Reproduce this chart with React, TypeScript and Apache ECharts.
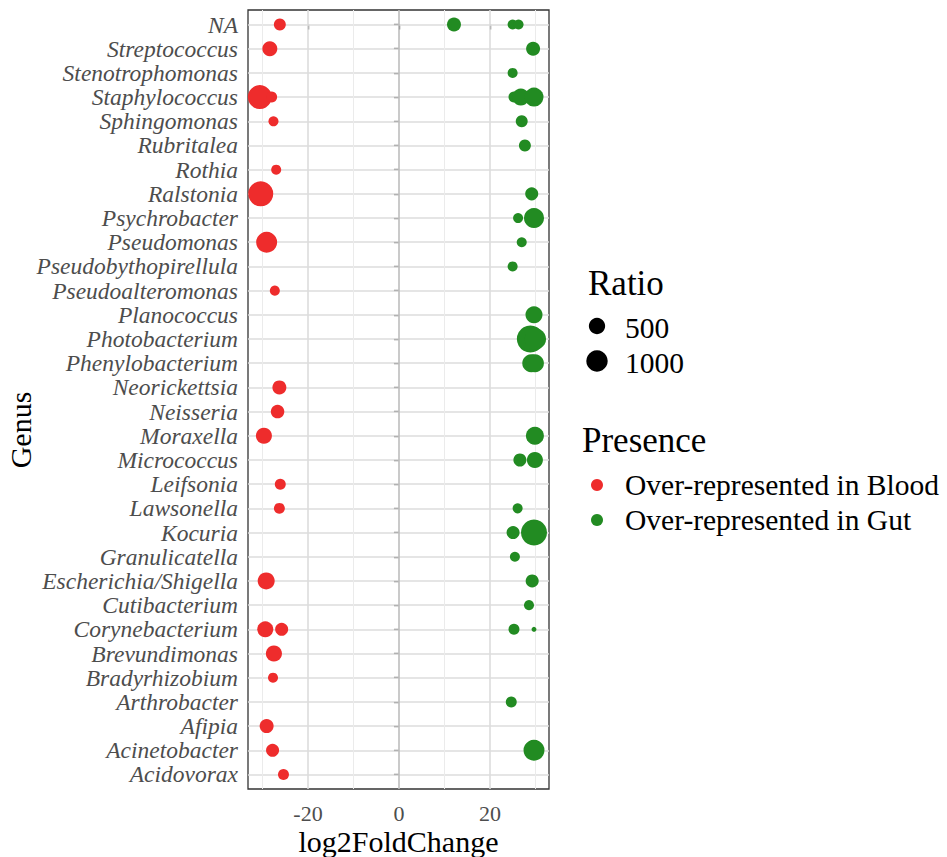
import React, { useEffect, useRef } from "react";
import * as echarts from "echarts";

// ---------- data ----------
const genera: string[] = [
  "NA", "Streptococcus", "Stenotrophomonas", "Staphylococcus", "Sphingomonas",
  "Rubritalea", "Rothia", "Ralstonia", "Psychrobacter", "Pseudomonas",
  "Pseudobythopirellula", "Pseudoalteromonas", "Planococcus", "Photobacterium",
  "Phenylobacterium", "Neorickettsia", "Neisseria", "Moraxella", "Micrococcus",
  "Leifsonia", "Lawsonella", "Kocuria", "Granulicatella", "Escherichia/Shigella",
  "Cutibacterium", "Corynebacterium", "Brevundimonas", "Bradyrhizobium",
  "Arthrobacter", "Afipia", "Acinetobacter", "Acidovorax",
];

const xTicks: number[] = [-20, 0, 20];
const xMinorGrid: number[] = [-30, -10, 10, 30];
const ratioLegend: number[] = [500, 1000];
const presence: string[] = ["Over-represented in Blood", "Over-represented in Gut"];

// [genus, log2FoldChange, Ratio]
const bloodPoints: [string, number, number][] = [
  ["NA", -26.2, 210],
  ["Streptococcus", -28.4, 400],
  ["Staphylococcus", -30.6, 1320],
  ["Staphylococcus", -28.0, 160],
  ["Sphingomonas", -27.6, 120],
  ["Rothia", -27.0, 120],
  ["Ralstonia", -30.4, 1460],
  ["Pseudomonas", -29.1, 950],
  ["Pseudoalteromonas", -27.3, 120],
  ["Neorickettsia", -26.3, 330],
  ["Neisseria", -26.7, 300],
  ["Moraxella", -29.7, 480],
  ["Leifsonia", -26.1, 160],
  ["Lawsonella", -26.3, 160],
  ["Escherichia/Shigella", -29.2, 560],
  ["Corynebacterium", -29.4, 480],
  ["Corynebacterium", -25.8, 270],
  ["Brevundimonas", -27.5, 480],
  ["Bradyrhizobium", -27.7, 120],
  ["Afipia", -29.1, 330],
  ["Acinetobacter", -27.8, 270],
  ["Acidovorax", -25.4, 160],
];

const gutPoints: [string, number, number][] = [
  ["NA", 12.1, 330],
  ["NA", 25.0, 120],
  ["NA", 26.3, 120],
  ["Streptococcus", 29.5, 330],
  ["Stenotrophomonas", 25.0, 120],
  ["Staphylococcus", 25.3, 160],
  ["Staphylococcus", 26.8, 560],
  ["Staphylococcus", 29.7, 740],
  ["Sphingomonas", 27.0, 210],
  ["Rubritalea", 27.7, 210],
  ["Ralstonia", 29.2, 270],
  ["Psychrobacter", 26.2, 120],
  ["Psychrobacter", 29.7, 850],
  ["Pseudomonas", 27.0, 120],
  ["Pseudobythopirellula", 25.0, 120],
  ["Planococcus", 29.7, 560],
  ["Photobacterium", 28.9, 1750],
  ["Photobacterium", 30.0, 1000],
  ["Phenylobacterium", 29.1, 650],
  ["Phenylobacterium", 29.9, 650],
  ["Moraxella", 29.9, 650],
  ["Micrococcus", 26.6, 270],
  ["Micrococcus", 29.9, 480],
  ["Lawsonella", 26.1, 120],
  ["Kocuria", 25.1, 270],
  ["Kocuria", 29.7, 1600],
  ["Granulicatella", 25.5, 120],
  ["Escherichia/Shigella", 29.3, 270],
  ["Cutibacterium", 28.6, 120],
  ["Corynebacterium", 25.3, 160],
  ["Corynebacterium", 29.7, 3],
  ["Arthrobacter", 24.7, 160],
  ["Acinetobacter", 29.7, 950],
];

// ---------- styling ----------
const SERIF = '"Liberation Serif", "Times New Roman", serif';
const RED = "#EE2C2C";
const GREEN = "#228B22";
const sizeOf = (r: number) => 4 + 0.55 * Math.sqrt(r);

export default function App() {
  const ref = useRef<HTMLDivElement>(null);

  useEffect(() => {
    if (!ref.current) return;
    const chart = echarts.init(ref.current, null, { renderer: "svg" });
    const idx = genera.map((_, i) => i);

    const major = { color: "#dcdcdc", width: 1.6, type: "solid" };
    const minor = { color: "#ebebeb", width: 1, type: "solid" };

    const toData = (pts: [string, number, number][]) =>
      pts.map(([g, x, r]) => [x, genera.indexOf(g), r]);

    const gridSeries = (name: string, lineStyle: any, data: any[]) => ({
      type: "scatter",
      name,
      data: [],
      silent: true,
      markLine: {
        silent: true,
        z: 1,
        symbol: ["none", "none"],
        label: { show: false },
        lineStyle,
        emphasis: { disabled: true },
        data,
      },
    });

    const option: any = {
      animation: false,
      backgroundColor: "#ffffff",
      grid: {
        left: 248,
        top: 10,
        width: 301,
        height: 779,
        outerBoundsMode: "none",
        containLabel: false,
        show: true,
        borderColor: "#333333",
        borderWidth: 1.3,
        backgroundColor: "transparent",
      },
      xAxis: {
        type: "value",
        min: -33.2,
        max: 33,
        axisLine: { show: false },
        splitLine: { show: false },
        axisTick: {
          show: true,
          customValues: xTicks,
          length: 5,
          lineStyle: { color: "#333333", width: 1.3 },
        },
        axisLabel: {
          customValues: xTicks,
          fontSize: 22,
          fontFamily: SERIF,
          color: "#4d4d4d",
          margin: 13,
        },
        name: "log2FoldChange",
        nameLocation: "middle",
        nameMoveOverlap: false,
        nameGap: 37,
        nameTextStyle: { fontSize: 30, fontFamily: SERIF, color: "#000000" },
      },
      yAxis: {
        type: "value",
        inverse: true,
        min: -0.6,
        max: 31.6,
        axisLine: { show: false },
        splitLine: { show: false },
        axisTick: {
          show: true,
          customValues: idx,
          length: 5,
          lineStyle: { color: "#333333", width: 1.3 },
        },
        axisLabel: {
          customValues: idx,
          formatter: (v: number) => genera[Math.round(v)] ?? "",
          fontSize: 23.5,
          fontStyle: "italic",
          fontFamily: SERIF,
          color: "#4d4d4d",
          margin: 10,
        },
      },
      series: [
        gridSeries("hgrid", major, idx.map((i) => ({ yAxis: i }))),
        gridSeries("vgrid-minor", minor, xMinorGrid.map((v) => ({ xAxis: v }))),
        gridSeries(
          "vgrid-major",
          major,
          xTicks.filter((v) => v !== 0).map((v) => ({ xAxis: v }))
        ),
        gridSeries("zero", { color: "#bdbdbd", width: 1.6, type: "solid" }, [{ xAxis: 0 }]),
        {
          type: "scatter",
          name: presence[0],
          data: toData(bloodPoints),
          symbol: "circle",
          symbolSize: (v: number[]) => sizeOf(v[2]),
          itemStyle: { color: RED, opacity: 1 },
          z: 3,
        },
        {
          type: "scatter",
          name: presence[1],
          data: toData(gutPoints),
          symbol: "circle",
          symbolSize: (v: number[]) => sizeOf(v[2]),
          itemStyle: { color: GREEN, opacity: 1 },
          z: 3,
        },
      ],
      graphic: [
        {
          type: "text",
          x: 20,
          y: 430,
          rotation: Math.PI / 2,
          style: {
            text: "Genus",
            fontSize: 30,
            fontFamily: SERIF,
            fill: "#000",
            align: "center",
            verticalAlign: "middle",
          },
        },
        {
          type: "text",
          x: 588,
          y: 283,
          style: { text: "Ratio", fontSize: 35, fontFamily: SERIF, fill: "#000", verticalAlign: "middle" },
        },
        ...ratioLegend.flatMap((r, i) => [
          {
            type: "circle",
            shape: { cx: 597, cy: 326 + i * 35, r: sizeOf(r) / 2 },
            style: { fill: "#000" },
          },
          {
            type: "text",
            x: 625,
            y: 328 + i * 35,
            style: { text: String(r), fontSize: 29.5, fontFamily: SERIF, fill: "#000", verticalAlign: "middle" },
          },
        ]),
        {
          type: "text",
          x: 582,
          y: 440,
          style: { text: "Presence", fontSize: 35, fontFamily: SERIF, fill: "#000", verticalAlign: "middle" },
        },
        ...presence.flatMap((p, i) => [
          {
            type: "circle",
            shape: { cx: 597, cy: 485 + i * 35, r: 6 },
            style: { fill: i === 0 ? RED : GREEN },
          },
          {
            type: "text",
            x: 625,
            y: 485 + i * 35,
            style: { text: p, fontSize: 29.5, fontFamily: SERIF, fill: "#000", verticalAlign: "middle" },
          },
        ]),
      ],
    };

    chart.setOption(option);
    return () => chart.dispose();
  }, []);

  return (
    <div
      ref={ref}
      style={{ position: "fixed", left: 0, top: 0, width: 947, height: 857, background: "#fff" }}
    />
  );
}
